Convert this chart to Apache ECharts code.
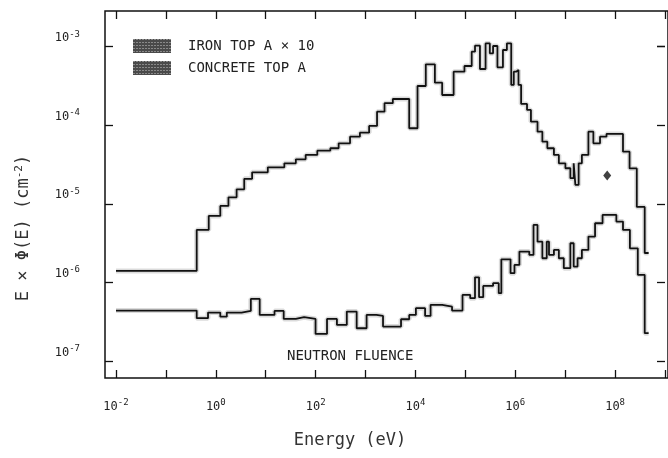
<!DOCTYPE html>
<html lang="en" style="height: 100%">
<head>
  <meta charset="utf-8">
</head>
<body style="height: 100%; margin: 0; background: #fff">
  <div id="container" style="width: 668px; height: 458px"></div>

  <script type="text/javascript" src="https://fastly.jsdelivr.net/npm/echarts@6/dist/echarts.min.js"></script>

  <script type="text/javascript">
    // bin edges (eV) and E*phi(E) per bin
    var ironEdges = [0.01, 0.414, 0.721, 1.23, 1.79, 2.61, 3.71, 5.34, 11.0, 23.6,
      40.1, 63.1, 108, 197, 289, 489, 771, 1180, 1700, 2400,
      3520, 7500, 1.10e4, 1.61e4, 2.45e4, 3.43e4, 5.82e4, 9.59e4, 1.34e5, 1.56e5,
      1.96e5, 2.54e5, 3.09e5, 3.59e5, 4.39e5, 5.66e5, 6.79e5, 8.30e5, 9.33e5, 1.04e6,
      1.16e6, 1.31e6, 1.72e6, 2.06e6, 2.79e6, 3.49e6, 4.39e6, 5.95e6, 7.47e6, 1.01e7,
      1.27e7, 1.48e7, 1.60e7, 1.86e7, 2.16e7, 2.92e7, 3.67e7, 4.99e7, 6.73e7, 1.44e8,
      1.95e8, 2.72e8, 3.92e8, 4.70e8];
    var ironValues = [1.40e-6, 4.66e-6, 7.02e-6, 9.40e-6, 1.21e-5, 1.53e-5, 2.08e-5, 2.52e-5, 2.92e-5, 3.28e-5,
      3.69e-5, 4.19e-5, 4.75e-5, 5.10e-5, 5.90e-5, 7.16e-5, 8.05e-5, 9.80e-5, 1.49e-4, 1.91e-4,
      2.16e-4, 9.16e-5, 3.16e-4, 5.97e-4, 3.48e-4, 2.43e-4, 4.81e-4, 5.68e-4, 8.64e-4, 1.03e-3,
      5.20e-4, 1.10e-3, 8.24e-4, 1.02e-3, 5.47e-4, 9.08e-4, 1.10e-3, 3.26e-4, 4.81e-4, 5.05e-4,
      3.26e-4, 1.87e-4, 1.57e-4, 1.11e-4, 8.29e-5, 6.18e-5, 5.10e-5, 4.19e-5, 3.28e-5, 2.84e-5,
      2.12e-5, 3.28e-5, 1.74e-5, 3.28e-5, 4.19e-5, 8.29e-5, 5.90e-5, 7.16e-5, 7.75e-5, 4.61e-5,
      2.82e-5, 9.14e-6, 2.37e-6];

    var concreteEdges = [0.01, 0.414, 0.698, 1.23, 1.66, 3.28, 5.03, 7.57, 15.0, 22.9,
      40.1, 58.7, 99.6, 169, 267, 421, 664, 1050, 1650, 2240,
      5140, 7500, 1.02e4, 1.56e4, 2.01e4, 3.43e4, 5.41e4, 8.77e4, 1.25e5, 1.56e5,
      1.88e5, 2.28e5, 3.59e5, 4.66e5, 5.26e5, 8.04e5, 9.64e5, 1.21e6, 1.91e6, 2.32e6,
      2.79e6, 3.49e6, 4.27e6, 4.74e6, 5.95e6, 7.47e6, 9.38e6, 1.27e7, 1.48e7, 1.77e7,
      2.16e7, 2.92e7, 3.97e7, 5.61e7, 1.06e8, 1.44e8, 1.98e8, 2.85e8, 3.92e8, 4.70e8];
    var concreteValues = [4.38e-7, 3.51e-7, 4.13e-7, 3.67e-7, 4.13e-7, 4.34e-7, 6.17e-7, 3.86e-7, 4.34e-7, 3.43e-7,
      3.61e-7, 3.43e-7, 2.21e-7, 3.43e-7, 2.88e-7, 4.25e-7, 2.61e-7, 3.86e-7, 3.75e-7, 2.74e-7,
      3.40e-7, 3.86e-7, 4.70e-7, 3.75e-7, 5.18e-7, 4.92e-7, 4.38e-7, 6.93e-7, 6.30e-7, 1.16e-6,
      6.49e-7, 9.03e-7, 9.77e-7, 7.29e-7, 1.97e-6, 1.31e-6, 1.67e-6, 2.47e-6, 2.24e-6, 5.39e-6,
      3.30e-6, 2.03e-6, 3.30e-6, 2.24e-6, 2.59e-6, 2.03e-6, 1.52e-6, 3.15e-6, 1.59e-6, 2.03e-6,
      2.59e-6, 3.83e-6, 5.66e-6, 7.23e-6, 5.94e-6, 4.66e-6, 2.72e-6, 1.25e-6, 2.26e-7];

    var markerPoint = [[6.95e7, 2.29e-5]];

    var seriesNames = ['IRON TOP A \u00d7 10', 'CONCRETE TOP A'];

    var mono = '"DejaVu Sans Mono", monospace';

    function stepData(edges, values) {
      var out = [];
      for (let i = 0; i < edges.length; i++) {
        out.push([edges[i], values[Math.min(i, values.length - 1)]]);
      }
      return out;
    }

    function powLabel(value, everyOther) {
      var e = Math.round(Math.log10(value));
      if (Math.abs(Math.log10(value) - e) > 1e-6) return '';
      if (everyOther && e % 2 !== 0) return '';
      return '{b|10}{s|' + e + '}';
    }

    var labelRich = {
      b: { fontFamily: mono, fontSize: 12, color: '#222' },
      s: { fontFamily: mono, fontSize: 9, color: '#222', padding: [0, 0, 8, 0] }
    };

    var dom = document.getElementById('container');
    var myChart = echarts.init(dom, null, { renderer: 'canvas' });

    var ironData = stepData(ironEdges, ironValues);
    var concreteData = stepData(concreteEdges, concreteValues);

    var haloStyle = { color: 'rgba(0,0,0,0.14)', width: 5 };
    var lineStyle = { color: '#111', width: 1.8 };
    var tickStyle = { color: '#111', width: 1.3 };

    var option = {
      animation: false,
      grid: [
        // data area: 10^-2..10^9 by 10^-7..10^-3
        { left: 116, right: -5, top: 46.7, bottom: 97 },
        // plot frame
        { left: 105, right: -5, top: 11, bottom: 80, show: true,
          borderColor: '#111', borderWidth: 1.5, backgroundColor: 'transparent' }
      ],
      legend: {
        data: seriesNames,
        orient: 'vertical',
        left: 128,
        top: 34,
        icon: 'rect',
        itemWidth: 38,
        itemHeight: 14,
        itemGap: 8,
        itemStyle: {
          color: '#4a4a4a', borderWidth: 0,
          decal: { symbol: 'rect', symbolSize: 1, dashArrayX: [2, 1], dashArrayY: [1, 2],
            color: 'rgba(255,255,255,0.35)' }
        },
        textStyle: { fontFamily: mono, fontSize: 14, color: '#222', padding: [0, 0, 0, 12] }
      },
      xAxis: [
        {
          gridIndex: 0, type: 'log', min: 0.01, max: 1e9, interval: 1,
          position: 'bottom', offset: 17,
          axisLine: { show: false },
          axisTick: { inside: true, length: 8, lineStyle: tickStyle },
          splitLine: { show: false },
          axisLabel: { margin: 20, formatter: function (v) { return powLabel(v, true); }, rich: labelRich }
        },
        {
          gridIndex: 0, type: 'log', min: 0.01, max: 1e9, interval: 1,
          position: 'top', offset: 35.7,
          axisLine: { show: false },
          axisTick: { inside: true, length: 8, lineStyle: tickStyle },
          splitLine: { show: false },
          axisLabel: { show: false }
        },
        { gridIndex: 1, type: 'value', show: false }
      ],
      yAxis: [
        {
          gridIndex: 0, type: 'log', min: 1e-7, max: 1e-3, interval: 1,
          position: 'left', offset: 11,
          axisLine: { show: false },
          axisTick: { inside: true, length: 8, lineStyle: tickStyle },
          splitLine: { show: false },
          axisLabel: { margin: 25, verticalAlign: 'bottom', formatter: function (v) { return powLabel(v, false); }, rich: labelRich }
        },
        {
          gridIndex: 0, type: 'log', min: 1e-7, max: 1e-3, interval: 1,
          position: 'right',
          axisLine: { show: false },
          axisTick: { inside: true, length: 8, lineStyle: tickStyle },
          splitLine: { show: false },
          axisLabel: { show: false }
        },
        { gridIndex: 1, type: 'value', show: false }
      ],
      series: [
        { name: 'iron spread', type: 'line', step: 'end', data: ironData, showSymbol: false,
          clip: false, silent: true, lineStyle: haloStyle },
        { name: 'concrete spread', type: 'line', step: 'end', data: concreteData, showSymbol: false,
          clip: false, silent: true, lineStyle: haloStyle },
        { name: seriesNames[0], type: 'line', step: 'end', data: ironData, showSymbol: false,
          clip: false, color: '#111', lineStyle: lineStyle },
        { name: seriesNames[1], type: 'line', step: 'end', data: concreteData, showSymbol: false,
          clip: false, color: '#111', lineStyle: lineStyle },
        { name: 'point', type: 'scatter', data: markerPoint, symbol: 'diamond',
          symbolSize: [8, 10], itemStyle: { color: '#111' } }
      ],
      graphic: [
        { type: 'text', left: 287, top: 349,
          style: { text: 'NEUTRON FLUENCE', fontFamily: mono, fontSize: 14, fill: '#222' } },
        { type: 'text', x: 350, y: 441,
          style: { text: 'Energy (eV)', fontFamily: mono, fontSize: 17, fill: '#333',
            align: 'center', verticalAlign: 'middle' } },
        { type: 'text', x: 24, y: 228, rotation: Math.PI / 2,
          style: { text: 'E \u00d7 \u03a6(E) (cm{s|-2})', fontFamily: mono, fontSize: 17, fill: '#333',
            align: 'center', verticalAlign: 'middle',
            rich: { s: { fontFamily: mono, fontSize: 11, fill: '#333', padding: [0, 0, 9, 0] } } } }
      ]
    };

    myChart.setOption(option);

    window.addEventListener('resize', myChart.resize);
  </script>
</body>
</html>
